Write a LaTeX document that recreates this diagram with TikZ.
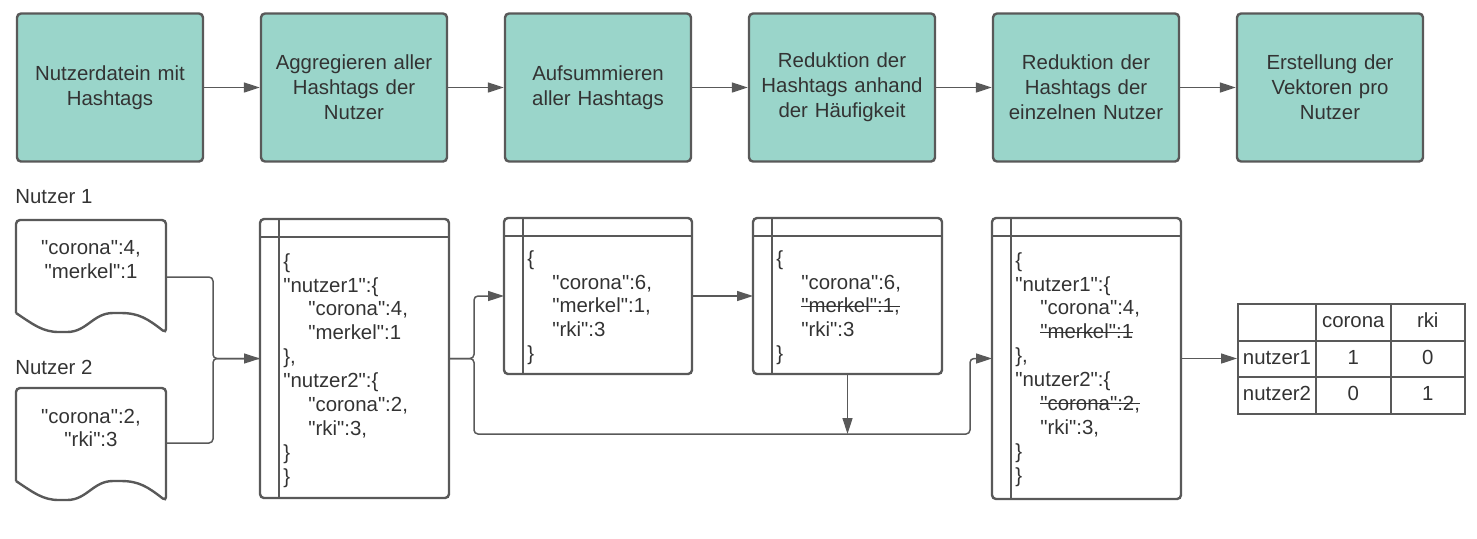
\documentclass[tikz,border=0pt]{standalone}
\usepackage{fontspec}
\setmainfont{Liberation Sans}[Ligatures=TeXOff]
\usetikzlibrary{positioning, arrows.meta, calc, matrix}

\definecolor{stepfill}{HTML}{9AD5CA}
\definecolor{edgegray}{HTML}{595959}
\definecolor{txtgray}{HTML}{333333}

\newcommand{\stepfont}{\fontsize{10.2}{12.5}\selectfont}
\newcommand{\jsonfont}{\fontsize{10.2}{11.95}\selectfont}
\newcommand{\ind}{\hspace*{12.5pt}}
\newcommand{\strike}[1]{\setbox0=\hbox{#1}\rlap{\rule[0.3em]{\wd0}{0.5pt}}\box0}

\tikzset{
  boxline/.style={draw=edgegray, line width=1.2pt},
  stepbox/.style={boxline, fill=stepfill, rounded corners=2pt, minimum width=93pt, minimum height=74pt,
    text width=88pt, align=center, font=\stepfont, text=txtgray, inner sep=0pt},
  listbox/.style={boxline, rounded corners=2pt, inner sep=0pt, outer sep=0pt},
  listtext/.style={anchor=north west, align=left, font=\jsonfont, text=txtgray, inner sep=0pt},
  docbox/.style={minimum width=75pt, minimum height=40pt, align=center, font=\jsonfont, text=txtgray, inner sep=0pt, outer sep=0pt},
  label/.style={anchor=west, font=\jsonfont, text=txtgray, inner sep=0pt},
  conn/.style={draw=edgegray, line width=0.75pt, rounded corners=2pt},
  arr/.style={conn, -{Triangle[length=8pt,width=5pt]}},
  cell/.style={draw=edgegray, line width=1pt, minimum height=18.3pt, text height=7.4pt, text depth=2pt,
    inner sep=0pt, font=\jsonfont, text=txtgray}
}

% Dokument mit welligem Rand
\newcommand{\docshape}[1]{%
  \draw[boxline, rounded corners=2pt] ([yshift=-6.5pt]#1.south west) -- (#1.north west) -- (#1.north east)
    -- ([yshift=-16.5pt]#1.south east)
    .. controls +(-18,-14) and +(22,0) .. ++(-49,-20)
    .. controls +(-24,0) and +(24,0) .. ++(-54,19)
    .. controls +(-20,0) and +(18,12) .. ++(-47,-19);}
% Kopfzeile und Randspalte
\newcommand{\listlines}[1]{%
  \draw[boxline] ([yshift=-9pt]#1.north west) -- ([yshift=-9pt]#1.north east);
  \draw[boxline] ([xshift=9.5pt]#1.north west) -- ([xshift=9.5pt]#1.south west);}

\begin{document}
\begin{tikzpicture}[x=0.5pt, y=-0.5pt, node distance=27.8pt]
\useasboundingbox (0,0) rectangle (1477,538);

% Arbeitsschritte
\node[stepbox] (s1) at (110,87.5) {Nutzerdatein mit\\Hashtags};
\node[stepbox, right=of s1] (s2) {Aggregieren aller\\Hashtags der\\Nutzer};
\node[stepbox, right=of s2] (s3) {Aufsummieren\\aller Hashtags};
\node[stepbox, right=of s3] (s4) {Reduktion der\\Hashtags anhand\\der H\"aufigkeit};
\node[stepbox, right=of s4] (s5) {Reduktion der\\Hashtags der\\einzelnen Nutzer};
\node[stepbox, right=of s5] (s6) {Erstellung der\\Vektoren pro\\Nutzer};
\foreach \a/\b in {s1/s2, s2/s3, s3/s4, s4/s5, s5/s6}
  \draw[arr] (\a) -- (\b);

% Nutzerdateien
\node[label] (n1) at (15,197) {Nutzer 1};
\node[docbox] (doc1) at (91,260) {"corona":4,\\"merkel":1};
\docshape{doc1}
\node[label] (n2) at (15,367) {Nutzer 2};
\node[docbox] (doc2) at (91,428) {"corona":2,\\"rki":3};
\docshape{doc2}

% Zwischenergebnisse
\node[listbox, minimum width=94.5pt, minimum height=139.5pt] (list1) at (354.5,358.5) {};
\listlines{list1}
\node[listtext] (list1t) at ([xshift=11.5pt, yshift=-17pt]list1.north west) {%
\{\\
"nutzer1":\{\\
\ind"corona":4,\\
\ind"merkel":1\\
\},\\
"nutzer2":\{\\
\ind"corona":2,\\
\ind"rki":3,\\
\}\\
\}};

\node[listbox, minimum width=94pt, minimum height=78pt] (list2) at (598,296) {};
\listlines{list2}
\node[listtext] (list2t) at ([xshift=11.5pt, yshift=-16pt]list2.north west) {%
\{\\
\ind"corona":6,\\
\ind"merkel":1,\\
\ind"rki":3\\
\}};

\node[listbox, minimum width=94.5pt, minimum height=78pt] (list3) at (847.5,296) {};
\listlines{list3}
\node[listtext] (list3t) at ([xshift=11.5pt, yshift=-16pt]list3.north west) {%
\{\\
\ind"corona":6,\\
\ind\strike{"merkel":1,}\\
\ind"rki":3\\
\}};

\node[listbox, minimum width=94.5pt, minimum height=140.5pt] (list4) at (1086.5,358.5) {};
\listlines{list4}
\node[listtext] (list4t) at ([xshift=11.5pt, yshift=-17pt]list4.north west) {%
\{\\
"nutzer1":\{\\
\ind"corona":4,\\
\ind\strike{"merkel":1}\\
\},\\
"nutzer2":\{\\
\ind\strike{"corona":2,}\\
\ind"rki":3,\\
\}\\
\}};

% Vektoren
\matrix[matrix of nodes, nodes={cell}, nodes in empty cells, column sep=-1pt, row sep=-1pt,
  inner sep=0pt, outer sep=0pt, anchor=north west,
  column 1/.style={nodes={minimum width=39pt}},
  column 2/.style={nodes={minimum width=37.25pt}},
  column 3/.style={nodes={minimum width=37.25pt}}] (vec) at (1237,303) {
  & corona & rki \\
  nutzer1 & 1 & 0 \\
  nutzer2 & 0 & 1 \\
};

% Verbindungen
\draw[conn] ([yshift=-8.5pt]doc1.east) -| ([xshift=-23.5pt]list1.west) -- (list1.west);
\draw[arr] ([yshift=-7.5pt]doc2.east) -| ([xshift=-23.5pt]list1.west) -- (list1.west);
\coordinate (split) at ([xshift=12.5pt]list1.east);
\coordinate (bus) at ([xshift=-11pt, yshift=-37.75pt]list4.west);
\draw[arr] (list1.east) -- (split) |- (list2.west);
\draw[arr] (list1.east) -- (split) |- (bus) |- (list4.west);
\draw[arr] (list2.east) -- (list3.west);
\draw[arr] (list3.south) -- (list3.south |- bus);
\draw[arr] (list4.east) -- (list4.east -| vec.west);
\end{tikzpicture}
\end{document}
